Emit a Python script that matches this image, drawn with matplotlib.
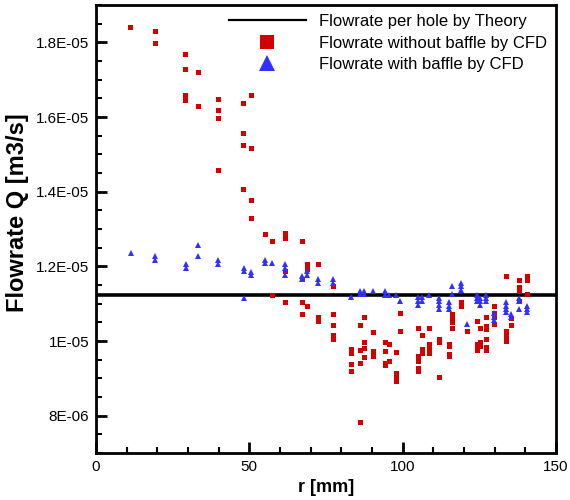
import numpy as np
from matplotlib import pyplot as plt
from matplotlib.lines import Line2D
from matplotlib.ticker import MultipleLocator, FuncFormatter

plt.rcParams['font.family'] = ['Liberation Sans', 'DejaVu Sans']

# radius of the hole [mm] and flowrate [1E-06 m3/s]
r_no_baffle = [11.2, 19.2, 19.2, 29.1, 29.1, 29.1, 29.1, 29.1, 33.3, 33.3,
               39.9, 39.9, 39.9, 39.9, 48.1, 48.1, 48.1, 48.1, 50.6, 50.6,
               50.6, 50.6, 55.2, 57.4, 57.4, 61.5, 61.5, 61.5, 61.5, 67.1,
               67.1, 67.1, 67.1, 68.9, 68.9, 68.9, 72.3, 72.3, 72.3, 77.2,
               77.2, 77.2, 77.2, 77.2, 83.2, 83.2, 83.2, 83.2, 86.2, 86.2,
               86.2, 86.2, 87.5, 87.5, 87.5, 87.5, 90.3, 90.3, 90.3, 94.1,
               94.1, 94.1, 94.1, 95.5, 95.5, 97.8, 97.8, 97.8, 97.8, 99.1,
               99.1, 105.1, 105.1, 105.1, 105.1, 105.1, 106.4, 106.4, 106.4, 108.6,
               108.6, 108.6, 108.6, 111.9, 111.9, 111.9, 115.1, 115.1, 115.1, 115.1,
               116.1, 116.1, 116.1, 116.1, 119.1, 119.1, 121.1, 124.1, 124.1, 124.1,
               124.1, 125.2, 125.2, 125.2, 127.2, 127.2, 127.2, 127.2, 127.2, 127.2,
               129.9, 129.9, 129.9, 129.9, 133.6, 133.6, 133.6, 133.6, 135.3, 135.3,
               138.0, 138.0, 138.0, 138.0, 140.6, 140.6, 140.6]
q_no_baffle = [18.41, 18.30, 17.99, 17.70, 17.29, 16.58, 16.52, 16.46, 17.20, 16.29,
               16.48, 16.18, 15.98, 14.58, 16.38, 15.57, 15.26, 14.07, 16.59, 15.16,
               13.77, 13.29, 12.86, 12.67, 11.24, 12.88, 12.77, 11.87, 11.04, 12.67,
               11.66, 11.04, 10.73, 12.07, 11.93, 10.94, 12.07, 10.65, 10.54, 11.46,
               10.73, 10.43, 10.17, 10.06, 9.78, 9.69, 9.38, 9.20, 10.44, 9.75,
               9.41, 7.83, 10.63, 9.96, 9.81, 9.58, 10.25, 9.74, 9.60, 9.96,
               9.74, 9.42, 9.36, 9.92, 9.47, 9.71, 9.15, 9.06, 8.93, 10.74,
               10.26, 10.34, 9.60, 9.47, 9.29, 9.20, 10.17, 9.78, 9.69, 10.34,
               9.92, 9.81, 9.69, 10.05, 9.96, 9.04, 9.92, 9.87, 9.66, 9.60,
               10.72, 10.62, 10.52, 10.34, 11.04, 10.95, 10.26, 10.54, 9.93, 9.84,
               9.75, 10.34, 9.96, 9.87, 10.65, 10.41, 10.32, 10.06, 9.84, 9.75,
               10.95, 10.74, 10.63, 10.45, 11.75, 10.26, 10.14, 10.01, 10.62, 10.44,
               11.64, 11.44, 11.33, 11.06, 11.75, 11.64, 11.26]

r_baffle = [11.3, 19.2, 19.2, 29.3, 29.3, 33.4, 33.4, 39.9, 39.9, 48.2,
            48.2, 48.2, 50.6, 50.6, 55.2, 55.2, 57.4, 61.5, 61.5, 61.5,
            67.1, 67.1, 68.9, 68.9, 72.3, 72.3, 77.2, 77.2, 83.2, 86.2,
            86.2, 87.5, 87.5, 90.4, 94.1, 94.1, 95.4, 97.8, 99.1, 105.1,
            105.1, 105.1, 106.2, 106.2, 108.6, 111.9, 111.9, 111.9, 111.9, 115.1,
            115.1, 115.1, 116.1, 116.1, 119.1, 119.1, 119.1, 121.1, 124.3, 124.3,
            124.3, 125.2, 125.2, 125.2, 127.2, 127.2, 127.2, 129.9, 129.9, 129.9,
            133.6, 133.6, 133.6, 133.6, 135.3, 135.3, 138.0, 138.0, 138.0, 140.6,
            140.6, 140.6]
q_baffle = [12.37, 12.27, 12.18, 12.07, 11.96, 12.57, 12.27, 12.16, 12.07, 11.96,
            11.87, 11.16, 11.86, 11.77, 12.18, 12.09, 12.08, 12.07, 11.96, 11.76,
            11.75, 11.67, 11.87, 11.78, 11.65, 11.56, 11.65, 11.56, 11.17, 11.33,
            11.26, 11.33, 11.26, 11.33, 11.33, 11.22, 11.24, 11.24, 11.06, 11.17,
            11.06, 10.97, 11.17, 11.06, 11.24, 11.15, 11.06, 10.97, 10.87, 11.04,
            10.95, 10.86, 11.46, 11.26, 11.55, 11.46, 11.37, 10.45, 11.24, 11.15,
            11.06, 11.15, 11.06, 10.97, 11.24, 11.15, 11.06, 10.74, 10.65, 10.56,
            11.04, 10.95, 10.86, 10.77, 10.72, 10.63, 11.15, 11.06, 10.86, 10.95,
            10.86, 10.77]

q_theory = 11.225  # flowrate per hole by theory [1E-06 m3/s]

red = '#d40000'
blue = '#3030ff'
label_font = 11

fig = plt.figure(figsize=(5.7, 5.0), dpi=100)
ax = fig.add_axes([0.1684, 0.094, 0.807, 0.896])

ax.axhline(q_theory * 1e-6, color='black', linewidth=2.6, zorder=1)
ax.plot(r_no_baffle, np.array(q_no_baffle) * 1e-6, 's', color=red,
        markersize=3.6, markeredgewidth=0, zorder=3)
ax.plot(r_baffle, np.array(q_baffle) * 1e-6, '^', color=blue,
        markersize=4.2, markeredgewidth=0, zorder=4)

ax.set_xlim(0, 150)
ax.set_ylim(7e-6, 1.9e-5)
ax.xaxis.set_major_locator(MultipleLocator(50))
ax.xaxis.set_minor_locator(MultipleLocator(10))
ax.yaxis.set_major_locator(MultipleLocator(2e-6))
ax.yaxis.set_minor_locator(MultipleLocator(0.5e-6))


def sci_label(v, pos):
    s = '%.1E' % v
    mant, exp = s.split('E')
    mant = mant.rstrip('0').rstrip('.')
    return mant + 'E' + exp[0] + exp[1:].zfill(2)


ax.yaxis.set_major_formatter(FuncFormatter(sci_label))

for side in ax.spines.values():
    side.set_linewidth(2)
ax.tick_params(which='both', direction='in', top=False, right=False,
               labelsize=label_font, width=1.5)
ax.tick_params(which='major', length=8, pad=5, width=2)
ax.tick_params(which='minor', length=4)

ax.set_xlabel('r [mm]', fontsize=13, fontweight='bold', labelpad=4)
ax.set_ylabel('Flowrate Q [m3/s]', fontsize=17, fontweight='bold')
ax.yaxis.set_label_coords(-0.145, 0.536)

handles = [
    Line2D([0], [0], color='black', linewidth=1.6),
    Line2D([0], [0], marker='s', color=red, linestyle='none', markersize=10, markeredgewidth=0),
    Line2D([0], [0], marker='^', color=blue, linestyle='none', markersize=11, markeredgewidth=0),
]
labels = ['Flowrate per hole by Theory', 'Flowrate without baffle by CFD',
          'Flowrate with baffle by CFD']
ax.legend(handles, labels, loc='upper right', bbox_to_anchor=(0.995, 0.995),
          frameon=False, fontsize=12, handlelength=4.6, handletextpad=0.8,
          labelspacing=0.4, borderaxespad=0.1, borderpad=0.3)

fig.savefig('out.png', dpi=100)
